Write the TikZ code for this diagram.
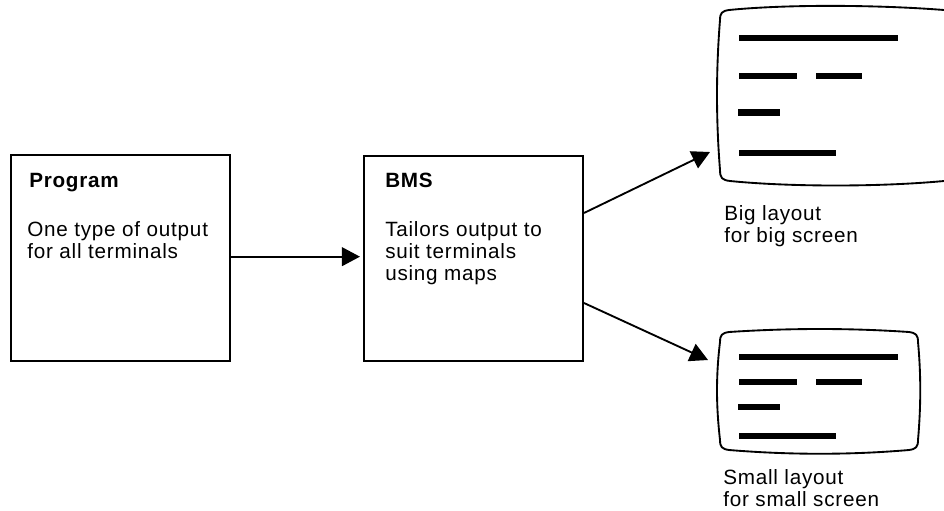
\documentclass[tikz,border=0pt]{standalone}
\usepackage{fontspec}
\setmainfont[LetterSpace=3.7]{Liberation Sans}
\usetikzlibrary{arrows.meta}
\tikzset{
    box/.style={draw, line width=1.3pt, inner sep=0pt, minimum width=164pt, minimum height=154pt},
    label/.style={anchor=north west, inner sep=0pt, align=left, font=\fontsize{15.5}{16.5}\selectfont},
    title/.style={anchor=base west, inner sep=0pt, font=\fontsize{15.5}{16.5}\selectfont\bfseries},
    link/.style={line width=1.4pt, -{Triangle[length=13.5pt,width=14pt]}},
    screen/.style={line width=1.4pt, line join=round},
    bar/.style={line width=5.2pt}
}
\begin{document}
\begin{tikzpicture}[x=0.75pt,y=-0.75pt]
\useasboundingbox (0,0) rectangle (944,510);

% Boxes
\node[box] (program) at (120.5,258) {};
\node[box] (bms) at (473.5,258.5) {};
\node[title] (programtitle) at (29,187.5) {Program};
\node[label] (programtext) at (27,221) {One type of output\\for all terminals};
\node[title] (bmstitle) at (385,187.5) {BMS};
\node[label] (bmstext) at (385,221) {Tailors output to\\suit terminals\\using maps};

% Big screen (runs off the right edge)
\draw[screen] (944,10) .. controls (880,5) and (790,4) .. (729,10)
    .. controls (722,11) and (720,13) .. (720,20)
    .. controls (716,70) and (716,120) .. (720,170)
    .. controls (720,178) and (722,180) .. (730,181)
    .. controls (790,187) and (880,187) .. (944,181);
\foreach \xa/\xb/\y in {739/898/38, 739/797/76, 816/862/76, 738/780/112.5, 739/836/153} {
    \draw[bar] (\xa,\y) -- (\xb,\y);
}
\node[label] (biglabel) at (724,205) {Big layout\\for big screen};

% Small screen
\draw[screen] (729,332) .. controls (790,328) and (850,328) .. (909,332)
    .. controls (916,333) and (918,335) .. (918,342)
    .. controls (921,375) and (921,405) .. (918,440)
    .. controls (918,447) and (916,449) .. (909,450)
    .. controls (850,455) and (790,455) .. (729,450)
    .. controls (722,449) and (720,447) .. (720,440)
    .. controls (716,405) and (716,375) .. (720,342)
    .. controls (720,335) and (722,333) .. (729,332) -- cycle;
\foreach \xa/\xb/\y in {739/898/357, 739/797/382, 816/862/382, 738/780/407, 739/836/436} {
    \draw[bar] (\xa,\y) -- (\xb,\y);
}
\node[label] (smalllabel) at (723,469) {Small layout\\for small screen};

% Connectors
\coordinate (bigout) at (584,213);
\coordinate (bigin) at (710,152);
\coordinate (smallout) at (584,303);
\coordinate (smallin) at (708,360);
\draw[link, shorten >=2.5pt] ([yshift=1pt]program.east) -- ([yshift=1pt]program.east -| bms.west);
\draw[link] (bigout) -- (bigin);
\draw[link] (smallout) -- (smallin);

\end{tikzpicture}
\end{document}
